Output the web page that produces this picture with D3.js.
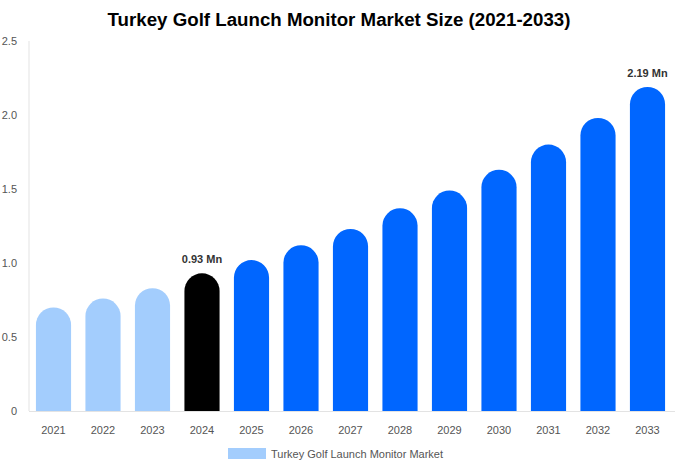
<!DOCTYPE html>
<html>
<head>
<meta charset="utf-8">
<script src="https://cdnjs.cloudflare.com/ajax/libs/d3/7.8.5/d3.min.js"></script>
<style>
  body { margin: 0; background: #fff; }
  text { font-family: "Liberation Sans", Arial, sans-serif; }
</style>
</head>
<body>
<div id="chart"></div>
<script>
// Data
const years = ['2021', '2022', '2023', '2024', '2025', '2026', '2027', '2028', '2029', '2030', '2031', '2032', '2033'];
const values = [0.70, 0.76, 0.83, 0.93, 1.02, 1.12, 1.23, 1.37, 1.49, 1.63, 1.80, 1.98, 2.19];
const yTicks = [0, 0.5, 1.0, 1.5, 2.0, 2.5];
const labelled = { '2024': '0.93 Mn', '2033': '2.19 Mn' };
const seriesName = 'Turkey Golf Launch Monitor Market';

// Set up dimensions
const width = 675;
const height = 469;
const margin = { top: 41, right: 3, bottom: 58, left: 29 };

const svg = d3.select('#chart')
    .append('svg')
    .attr('width', width)
    .attr('height', height);

// Title
svg.append('text')
    .attr('x', 339)
    .attr('y', 26)
    .attr('text-anchor', 'middle')
    .style('font-size', '18.7px')
    .style('font-weight', 'bold')
    .style('fill', '#000')
    .text('Turkey Golf Launch Monitor Market Size (2021-2033)');

// Scales
const x = d3.scaleBand()
    .domain(years)
    .range([margin.left, width - margin.right])
    .paddingInner(0.29)
    .paddingOuter(0.14);

const y = d3.scaleLinear()
    .domain([0, 2.5])
    .range([height - margin.bottom, margin.top]);

// Colour per period
function barColor(yr) {
    if (+yr < 2024) return '#a3cdfd';
    if (+yr === 2024) return '#000000';
    return '#0066ff';
}

// Axes lines
svg.append('line')
    .attr('x1', margin.left).attr('x2', margin.left)
    .attr('y1', y(2.5)).attr('y2', y(0))
    .style('stroke', '#e3e3e3');

// Y tick labels
svg.append('g')
    .selectAll('text')
    .data(yTicks)
    .enter()
    .append('text')
    .attr('x', 17)
    .attr('y', d => y(d) + 4)
    .attr('text-anchor', 'end')
    .style('font-size', '11px')
    .style('fill', '#555')
    .text(d => d === 0 ? '0' : d.toFixed(1));

// Bars with fully rounded tops
svg.append('g')
    .selectAll('path')
    .data(years.map((yr, i) => ({ yr, v: values[i] })))
    .enter()
    .append('path')
    .attr('d', d => {
        const x0 = x(d.yr);
        const w = x.bandwidth();
        const r = w / 2;
        const top = y(d.v);
        const base = y(0);
        return `M${x0},${base} L${x0},${top + r} A${r},${r} 0 0 1 ${x0 + w},${top + r} L${x0 + w},${base} Z`;
    })
    .style('fill', d => barColor(d.yr));

// Baseline
svg.append('line')
    .attr('x1', margin.left).attr('x2', width)
    .attr('y1', y(0) + 0.5).attr('y2', y(0) + 0.5)
    .style('stroke', '#e3e3e3');

// Value labels
svg.append('g')
    .selectAll('text')
    .data(years.filter(yr => labelled[yr]))
    .enter()
    .append('text')
    .attr('x', yr => x(yr) + x.bandwidth() / 2)
    .attr('y', yr => y(values[years.indexOf(yr)]) - 10)
    .attr('text-anchor', 'middle')
    .style('font-size', '11px')
    .style('font-weight', 'bold')
    .style('fill', '#333')
    .text(yr => labelled[yr]);

// X labels
svg.append('g')
    .selectAll('text')
    .data(years)
    .enter()
    .append('text')
    .attr('x', yr => x(yr) + x.bandwidth() / 2)
    .attr('y', 434)
    .attr('text-anchor', 'middle')
    .style('font-size', '11px')
    .style('fill', '#555')
    .text(yr => yr);

// Legend
svg.append('rect')
    .attr('x', 228)
    .attr('y', 448)
    .attr('width', 38)
    .attr('height', 11)
    .style('fill', '#a3cdfd');

svg.append('text')
    .attr('x', 271)
    .attr('y', 457.5)
    .style('font-size', '11px')
    .style('fill', '#555')
    .text(seriesName);
</script>
</body>
</html>
